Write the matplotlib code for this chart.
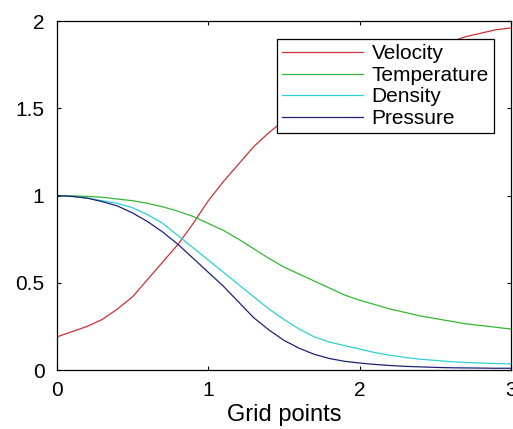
import numpy as np
import matplotlib
matplotlib.use('Agg')
import matplotlib.pyplot as plt

#----------------------------------------------------------------------
# DATA
grid_x = [0.0, 0.1, 0.2, 0.3, 0.4, 0.5, 0.6, 0.7, 0.8, 0.9, 1.0,
          1.1, 1.2, 1.3, 1.4, 1.5, 1.6, 1.7, 1.8, 1.9, 2.0,
          2.1, 2.2, 2.3, 2.4, 2.5, 2.6, 2.7, 2.8, 2.9, 3.0]
velocity = [0.19, 0.22, 0.25, 0.29, 0.35, 0.42, 0.52, 0.62, 0.72, 0.84, 0.97,
            1.08, 1.18, 1.28, 1.36, 1.43, 1.50, 1.56, 1.61, 1.65, 1.69,
            1.73, 1.76, 1.79, 1.82, 1.85, 1.88, 1.91, 1.93, 1.95, 1.96]
temperature = [1.0, 0.998, 0.995, 0.99, 0.98, 0.97, 0.955, 0.935, 0.91, 0.88, 0.84,
               0.80, 0.75, 0.695, 0.64, 0.59, 0.55, 0.51, 0.47, 0.43, 0.40,
               0.375, 0.35, 0.33, 0.31, 0.295, 0.28, 0.265, 0.255, 0.245, 0.235]
density = [1.0, 0.995, 0.985, 0.97, 0.955, 0.93, 0.89, 0.84, 0.77, 0.70, 0.63,
           0.56, 0.49, 0.42, 0.35, 0.29, 0.235, 0.19, 0.16, 0.14, 0.12,
           0.10, 0.085, 0.072, 0.062, 0.055, 0.048, 0.043, 0.04, 0.037, 0.035]
pressure = [1.0, 0.995, 0.985, 0.965, 0.94, 0.90, 0.85, 0.79, 0.72, 0.64, 0.56,
            0.48, 0.39, 0.30, 0.23, 0.17, 0.125, 0.09, 0.066, 0.05, 0.04,
            0.032, 0.026, 0.021, 0.018, 0.015, 0.013, 0.012, 0.011, 0.01, 0.01]

series = [('Velocity', velocity, '#cc3038'),
          ('Temperature', temperature, '#33b833'),
          ('Density', density, '#30d0d0'),
          ('Pressure', pressure, '#202078')]

x_ticks = [0, 1, 2, 3]
y_ticks = [0, 0.5, 1, 1.5, 2]
y_tick_labels = ['0', '0.5', '1', '1.5', '2']

#----------------------------------------------------------------------
# FIGURE
plt.rcParams['font.family'] = ['Liberation Sans', 'DejaVu Sans']

fig = plt.figure(figsize=(5.13, 4.29), dpi=100)
ax = fig.add_axes([0.111, 0.1375, 0.885, 0.8135])

for name, vals, col in series:
    ax.plot(grid_x, vals, color=col, lw=0.9, label=name)

ax.set_xlim(0, 3)
ax.set_ylim(0, 2)
ax.set_xticks(x_ticks)
ax.set_xticklabels([str(t) for t in x_ticks])
ax.set_yticks(y_ticks)
ax.set_yticklabels(y_tick_labels)
ax.tick_params(direction='in', length=3, width=0.8, top=True, right=True,
               labelsize=15, colors='black')
ax.tick_params(axis='x', pad=8)
ax.tick_params(axis='y', pad=9)
for s in ax.spines.values():
    s.set_linewidth(0.9)

ax.set_xlabel('Grid points', fontsize=17, labelpad=3)

leg = ax.legend(loc='upper right', bbox_to_anchor=(0.9626, 0.948),
                borderaxespad=0, fontsize=15, handlelength=3.9,
                handletextpad=0.4, labelspacing=0.12, borderpad=0.25,
                fancybox=False, framealpha=1, edgecolor='black')
leg.get_frame().set_linewidth(0.9)

fig.savefig('out.png', dpi=100)
